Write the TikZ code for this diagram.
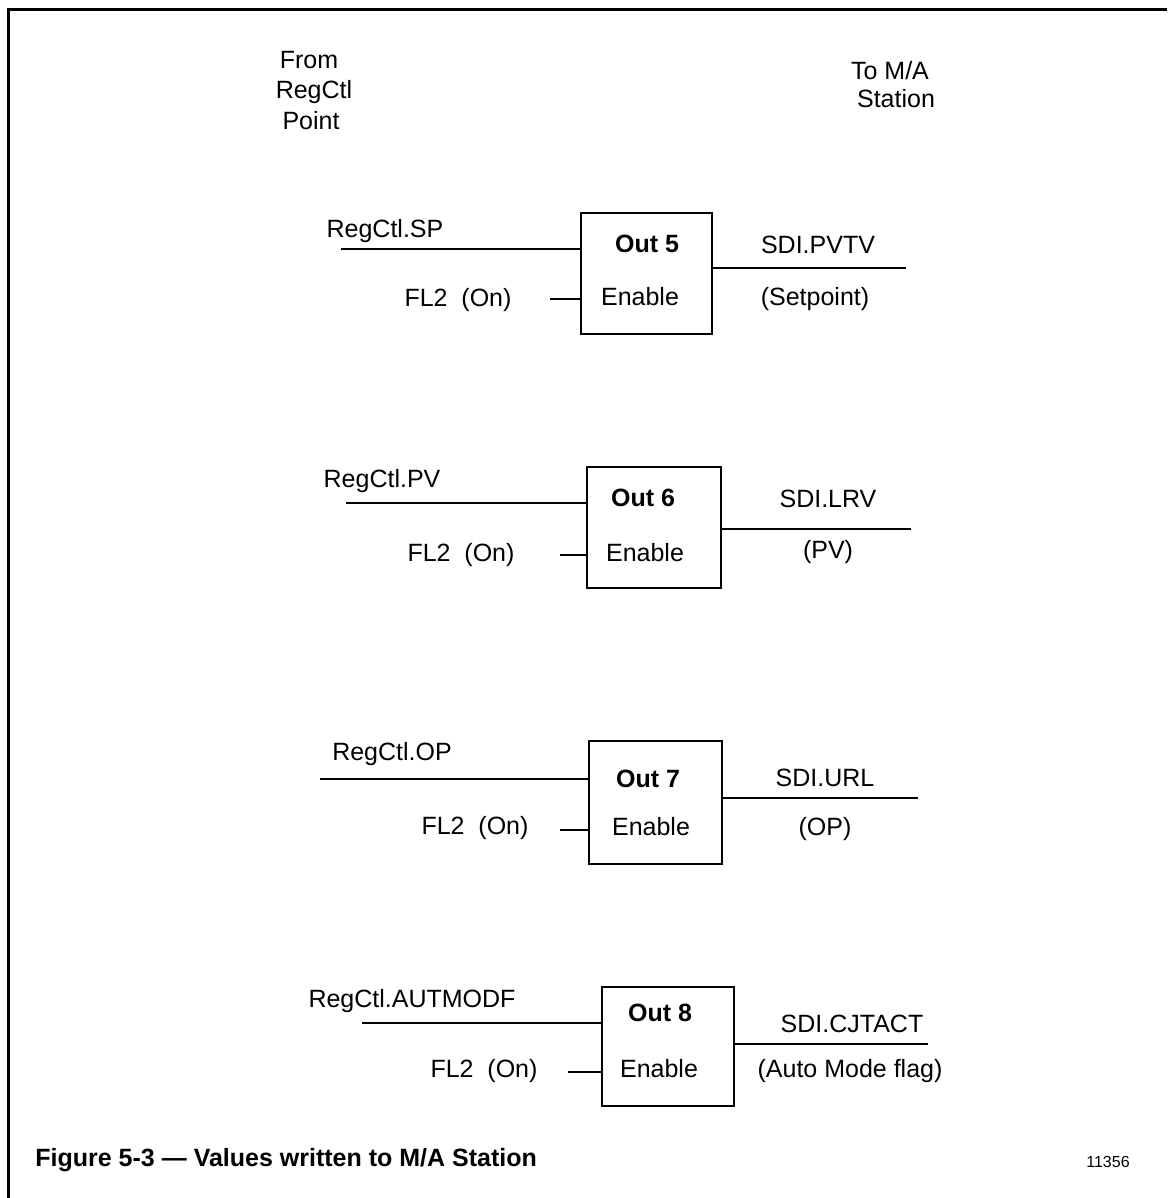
\documentclass[tikz,border=0pt]{standalone}
\usepackage{fontspec}
\setmainfont{Liberation Sans}
\begin{document}
\begin{tikzpicture}[x=0.5pt,y=-0.5pt,
  lbl/.style={anchor=base,inner sep=0pt,font=\fontsize{12.5}{15}\selectfont},
  ttl/.style={anchor=base,inner sep=0pt,font=\fontsize{12.5}{15}\selectfont\bfseries},
  blk/.style={draw,line width=1pt,rectangle,inner sep=0pt,outer sep=0pt},
  wire/.style={line width=1pt},
  frm/.style={line width=1.5pt}]
\fill[white] (0,0) rectangle (1167,1198);
\useasboundingbox (0,0) rectangle (1167,1198);
% frame
\coordinate (fTL) at (8,10);
\coordinate (fTR) at (1167,10);
\coordinate (fBL) at (8,1198);
\draw[frm] (fTR) -- (fTL) -- (fBL);
% headers
\node[lbl] (h1) at (309,69) {From};
\node[lbl] (h2) at (314,99) {RegCtl};
\node[lbl] (h3) at (311,130) {Point};
\node[lbl] (h4) at (890,80) {To M/A};
\node[lbl] (h5) at (896,108) {Station};
% ---- block Out 5
\node[blk,minimum width=65.5pt,minimum height=60.5pt] (b5) at (646.5,273.5) {};
\node[ttl] (o5) at (647,252) {Out 5};
\node[lbl] (e5) at (640,305) {Enable};
\node[lbl] (r5) at (385,237) {RegCtl.SP};
\node[lbl] (f5) at (458,306) {FL2~~(On)};
\node[lbl] (s5) at (818,254) {SDI.PVTV};
\node[lbl] (p5) at (815,305) {(Setpoint)};
\coordinate (i5) at (341,249);
\coordinate (k5) at (550,299);
\coordinate (q5) at (906,268);
\draw[wire] (i5) -- (i5 -| b5.west);
\draw[wire] (k5) -- (k5 -| b5.west);
\draw[wire] (q5 -| b5.east) -- (q5);
% ---- block Out 6
\node[blk,minimum width=67pt,minimum height=60.5pt] (b6) at (654,527.5) {};
\node[ttl] (o6) at (643,506) {Out 6};
\node[lbl] (e6) at (645,561) {Enable};
\node[lbl] (r6) at (382,487) {RegCtl.PV};
\node[lbl] (f6) at (461,561) {FL2~~(On)};
\node[lbl] (s6) at (828,507) {SDI.LRV};
\node[lbl] (p6) at (828,558) {(PV)};
\coordinate (i6) at (346,503);
\coordinate (k6) at (560,555);
\coordinate (q6) at (911,529);
\draw[wire] (i6) -- (i6 -| b6.west);
\draw[wire] (k6) -- (k6 -| b6.west);
\draw[wire] (q6 -| b6.east) -- (q6);
% ---- block Out 7
\node[blk,minimum width=66.5pt,minimum height=61.5pt] (b7) at (655.5,802.5) {};
\node[ttl] (o7) at (648,787) {Out 7};
\node[lbl] (e7) at (651,835) {Enable};
\node[lbl] (r7) at (392,760) {RegCtl.OP};
\node[lbl] (f7) at (475,834) {FL2~~(On)};
\node[lbl] (s7) at (825,786) {SDI.URL};
\node[lbl] (p7) at (825,835) {(OP)};
\coordinate (i7) at (320,779);
\coordinate (k7) at (560,830);
\coordinate (q7) at (918,798);
\draw[wire] (i7) -- (i7 -| b7.west);
\draw[wire] (k7) -- (k7 -| b7.west);
\draw[wire] (q7 -| b7.east) -- (q7);
% ---- block Out 8
\node[blk,minimum width=66pt,minimum height=59.5pt] (b8) at (668,1046.5) {};
\node[ttl] (o8) at (660,1021) {Out 8};
\node[lbl] (e8) at (659,1077) {Enable};
\node[lbl] (r8) at (412,1007) {RegCtl.AUTMODF};
\node[lbl] (f8) at (484,1077) {FL2~~(On)};
\node[lbl] (s8) at (852,1032) {SDI.CJTACT};
\node[lbl] (p8) at (850,1077) {(Auto Mode flag)};
\coordinate (i8) at (362,1023);
\coordinate (k8) at (568,1072);
\coordinate (q8) at (928,1044);
\draw[wire] (i8) -- (i8 -| b8.west);
\draw[wire] (k8) -- (k8 -| b8.west);
\draw[wire] (q8 -| b8.east) -- (q8);
% caption
\node[ttl,anchor=base west] (cap) at (35,1166) {Figure 5-3 --- Values written to M/A Station};
\node[anchor=base,inner sep=0pt,font=\fontsize{8}{10}\selectfont] (num) at (1108,1167) {11356};
\end{tikzpicture}
\end{document}
